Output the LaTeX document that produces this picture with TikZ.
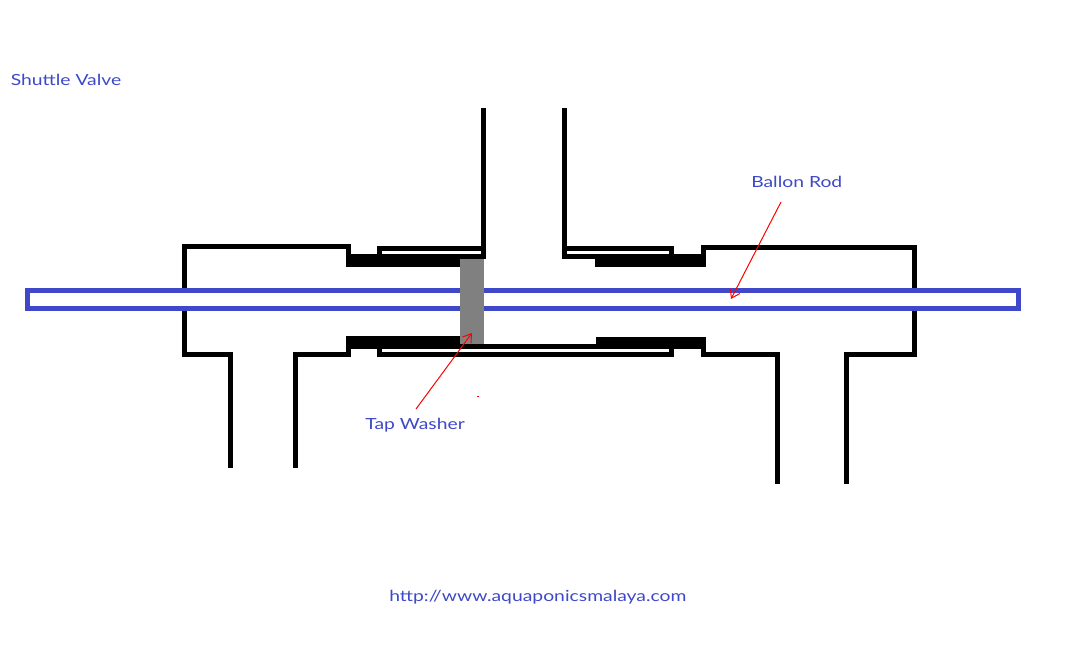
\documentclass[tikz,border=0pt]{standalone}
\usepackage{fontspec}
\setmainfont[FakeStretch=1.26]{Lato}
\usetikzlibrary{arrows.meta}
\definecolor{rodblue}{RGB}{62,72,200}
\definecolor{washergray}{RGB}{128,128,128}
\tikzset{
    wall/.style={draw=black,line width=5pt*0.75,line cap=butt,line join=miter},
    seal/.style={fill=black},
    rod/.style={draw=rodblue,fill=white,line width=5pt*0.75},
    pointer/.style={draw=red,line width=0.75pt,-{Straight Barb[length=6pt,width=8pt]}},
    caption/.style={text=rodblue,font=\fontsize{11.5}{14}\selectfont,inner sep=0pt,anchor=base west}
}
\begin{document}
\begin{tikzpicture}[x=0.75pt,y=-0.75pt]
    \useasboundingbox (0,0) rectangle (1083,656);

    \draw[wall] (483.5,108)--(483.5,256.5)--(379.5,256.5)--(379.5,248.5)--(483.5,248.5);
    \draw[wall] (564.5,108)--(564.5,256.5)--(597,256.5);
    \draw[wall] (564.5,248.5)--(671.5,248.5)--(671.5,256);

    \draw[wall] (348.5,256)--(348.5,246.5)--(184.5,246.5)--(184.5,354.5)--(230.5,354.5)--(230.5,468);
    \draw[wall] (295.5,468)--(295.5,354.5)--(348.5,354.5)--(348.5,347);
    \draw[wall] (703.5,256)--(703.5,247.5)--(914.5,247.5)--(914.5,354.5)--(846,354.5)--(846,484);
    \draw[wall] (777,484)--(777,354.5)--(703.5,354.5)--(703.5,347);

    \draw[wall] (460,346.5)--(598,346.5);
    \draw[wall] (379.5,347)--(379.5,354.5)--(671.5,354.5)--(671.5,347);

    \draw[rod] (27.5,290.5) rectangle (1018.5,308.5);
    \fill[washergray] (460,259) rectangle (484,344);

    \fill[seal] (346,254) rectangle (460,267);
    \fill[seal] (346,336) rectangle (460,349);
    \fill[seal] (595,254) rectangle (706,267);
    \fill[seal] (596,337) rectangle (706,349);

    \node[caption] (title) at (10.5,85.5) {Shuttle Valve};
    \node[caption] (rodlabel) at (751,188) {Ballon Rod};
    \node[caption] (washerlabel) at (365,429) {Tap Washer};
    \node[caption] (site) at (389,601) {http://www.aquaponicsmalaya.com};

    \coordinate (rodfrom) at (781,202);
    \coordinate (rodtip) at (731,299);
    \coordinate (washerfrom) at (416,409);
    \coordinate (washertip) at (472,333);
    \draw[pointer] (rodfrom)--(rodtip);
    \draw[pointer] (washerfrom)--(washertip);
    \fill[red] (477,395.5) rectangle (479,396.5);
\end{tikzpicture}
\end{document}
